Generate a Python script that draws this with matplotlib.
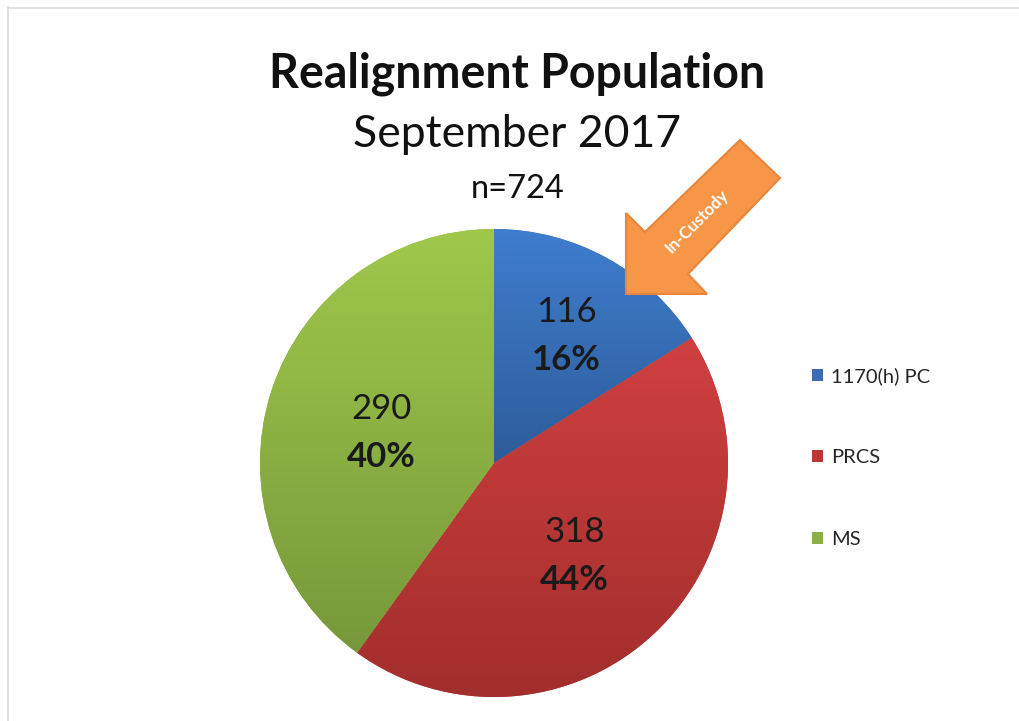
import numpy as np
import matplotlib
matplotlib.use("Agg")
import matplotlib.pyplot as plt
from matplotlib.colors import LinearSegmentedColormap
from matplotlib.patches import Polygon

plt.rcParams['font.family'] = ['Lato', 'DejaVu Sans']

categories = ["1170(h) PC", "PRCS", "MS"]
values = [116, 318, 290]
title_lines = ["Realignment Population", "September 2017", "n=724"]
arrow_label = "In-Custody"

top_colors = ["#3f7dcf", "#cf403f", "#9fc84b"]
bottom_colors = ["#2d5c99", "#a22e2d", "#77983a"]
mid_colors = ["#3a6db5", "#bc3836", "#8cb042"]
label_r = [0.65, 0.51, 0.50]

W, H = 1019, 721
fig = plt.figure(figsize=(W / 100, H / 100), dpi=100)
fig.patch.set_facecolor("white")

cx, cy, R = 494, 463, 234
ax = fig.add_axes([(cx - R) / W, (H - cy - R) / H, 2 * R / W, 2 * R / H])
ax.set_xlim(-1, 1)
ax.set_ylim(-1, 1)
ax.set_aspect("equal")
ax.axis("off")

total = sum(values)
wedges, _ = ax.pie(values, colors=mid_colors, startangle=90, counterclock=False,
                   radius=1.0, wedgeprops=dict(linewidth=0, edgecolor="none"))

grad = np.linspace(0, 1, 256).reshape(-1, 1)
for w, tc, bc in zip(wedges, top_colors, bottom_colors):
    ext = w.get_path().get_extents()
    cmap = LinearSegmentedColormap.from_list("g", [tc, bc])
    im = ax.imshow(grad, cmap=cmap, aspect="auto", origin="upper",
                   extent=[ext.x0, ext.x1, ext.y0, ext.y1], zorder=2,
                   interpolation="bilinear")
    im.set_clip_path(w)
ax.set_xlim(-1, 1)
ax.set_ylim(-1, 1)

for w, v, r in zip(wedges, values, label_r):
    ang = np.deg2rad((w.theta1 + w.theta2) / 2)
    x, y = r * np.cos(ang), r * np.sin(ang)
    ax.text(x - 0.005, y + 0.075, f"{v}", ha="center", va="center", fontsize=25,
            color="#1a1a1a", zorder=5)
    ax.text(x - 0.005, y - 0.13, f"{v / total * 100:.0f}%", ha="center", va="center",
            fontsize=25, fontweight="bold", color="#1a1a1a", zorder=5)

# overlay axes in pixel space for title, arrow, border
ov = fig.add_axes([0, 0, 1, 1], zorder=10)
ov.set_xlim(0, W)
ov.set_ylim(H, 0)
ov.axis("off")
ov.patch.set_alpha(0)

ov.text(517, 88, title_lines[0], ha="center", va="baseline", fontsize=33.5,
        fontweight="bold", color="#111111")
ov.text(517, 147, title_lines[1], ha="center", va="baseline", fontsize=32,
        color="#111111")
ov.text(518, 198, title_lines[2], ha="center", va="baseline", fontsize=23.5,
        color="#111111")

arrow_pts = [(740, 140), (780, 178), (688, 274), (707, 294), (626, 294),
             (626, 213), (645, 232)]
ov.add_patch(Polygon(arrow_pts, closed=True, facecolor="#f79646",
                     edgecolor="#e6863c", linewidth=1.5, zorder=3))
ov.text(697, 221, arrow_label, ha="center", va="center", rotation=45,
        fontsize=12, fontweight="bold", color="white", zorder=4)

ov.plot([8, W], [7.5, 7.5], color="#dcdcdc", lw=1.2)
ov.plot([8.5, 8.5], [7, H], color="#dcdcdc", lw=1.2)

fig.legend(wedges, categories, loc="upper left",
           bbox_to_anchor=(802 / W, 1 - 357 / H), frameon=False,
           handlelength=0.55, handleheight=0.55, handletextpad=0.4,
           labelspacing=3.2, fontsize=14.5, borderpad=0, labelcolor="#262626")

fig.savefig("out.png", dpi=100, facecolor="white")
